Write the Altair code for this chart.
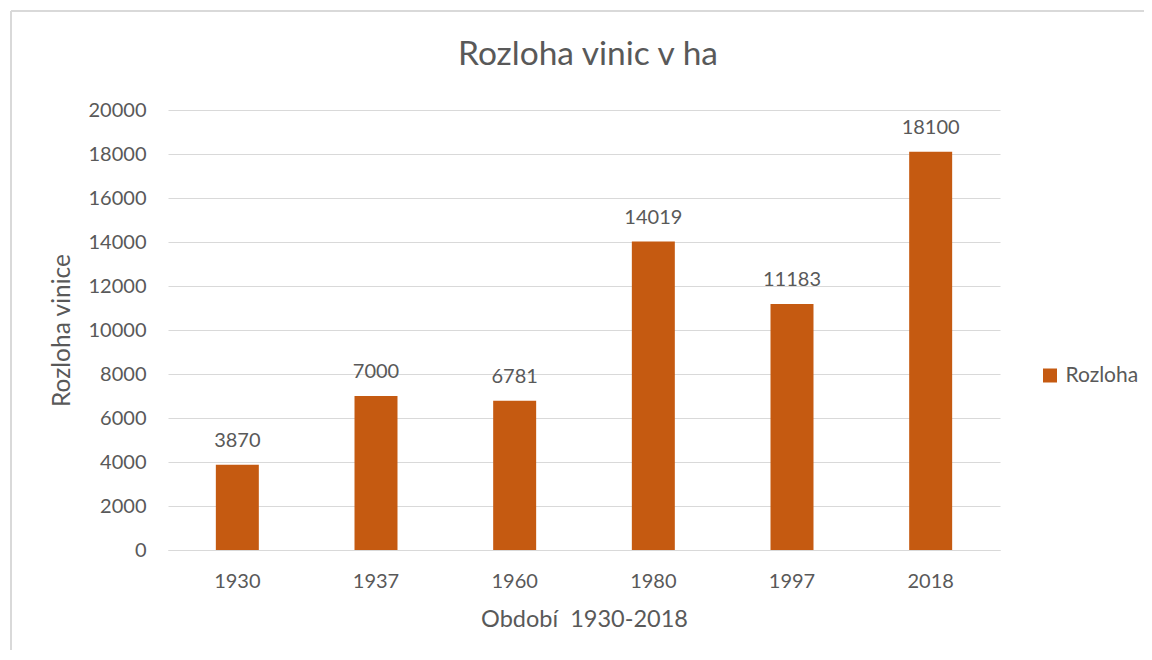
import altair as alt
import pandas as pd

years = ["1930", "1937", "1960", "1980", "1997", "2018"]
values = [3870, 7000, 6781, 14019, 11183, 18100]
series = ["Rozloha"] * len(years)
y_ticks = list(range(0, 20001, 2000))

df = pd.DataFrame({"rok": years, "rozloha": values, "serie": series})

FONT = "Lato"
TXT = "#595959"
GRID = "#D9D9D9"
BAR = "#C55A11"

base = alt.Chart(df)

bars = base.mark_bar(color=BAR).encode(
    x=alt.X("rok:N", sort=years,
            scale=alt.Scale(paddingInner=0.69, paddingOuter=0.345),
            axis=alt.Axis(title="Období\u00a0 1930-2018", labelAngle=0, ticks=False,
                          domain=True, domainColor=GRID, domainWidth=1,
                          labelPadding=21, titlePadding=16, grid=False,
                          titleFontSize=23.5)),
    y=alt.Y("rozloha:Q", scale=alt.Scale(domain=[0, 20000], nice=False),
            axis=alt.Axis(title="Rozloha vinice", values=y_ticks, format="d",
                          ticks=False, domain=False, grid=True, gridColor=GRID,
                          labelPadding=22, titlePadding=14, titleFontSize=24.5)),
    color=alt.Color("serie:N", scale=alt.Scale(domain=["Rozloha"], range=[BAR]),
                    legend=alt.Legend(title=None, orient="none", legendX=871.5, legendY=255,
                                      symbolType="square", symbolSize=196,
                                      symbolStrokeWidth=0, labelFontSize=21,
                                      labelFont=FONT, labelColor=TXT, padding=0,
                                      labelOffset=5)),
)

labels = base.mark_text(baseline="alphabetic", dy=-18, font=FONT, fontSize=20,
                        color=TXT).encode(
    x=alt.X("rok:N", sort=years),
    y="rozloha:Q",
    text="rozloha:Q",
)

border_left = alt.Chart(df).mark_rule(color=GRID, strokeWidth=1.5, clip=False).encode(
    x=alt.value(-157), y=alt.value(-99), y2=alt.value(560))
border_top = alt.Chart(df).mark_rule(color=GRID, strokeWidth=1.5, clip=False).encode(
    x=alt.value(-157), x2=alt.value(990), y=alt.value(-99))

chart = alt.layer(border_left, border_top, bars, labels).properties(
    width=832, height=440,
    title=alt.TitleParams("Rozloha vinic v ha", font=FONT, fontSize=33.5,
                          fontWeight="normal", color=TXT, anchor="middle",
                          baseline="alphabetic", offset=43, dx=4, dy=131),
    autosize=alt.AutoSizeParams(type="none"),
    padding={"left": 160, "top": 102, "right": 144, "bottom": 100},
).configure_axis(
    labelFont=FONT, labelFontSize=20, labelColor=TXT,
    titleFont=FONT, titleColor=TXT, titleFontWeight="normal",
).configure_view(stroke=None)

chart.save("out.html", embed_options={"renderer": "svg", "actions": False})
